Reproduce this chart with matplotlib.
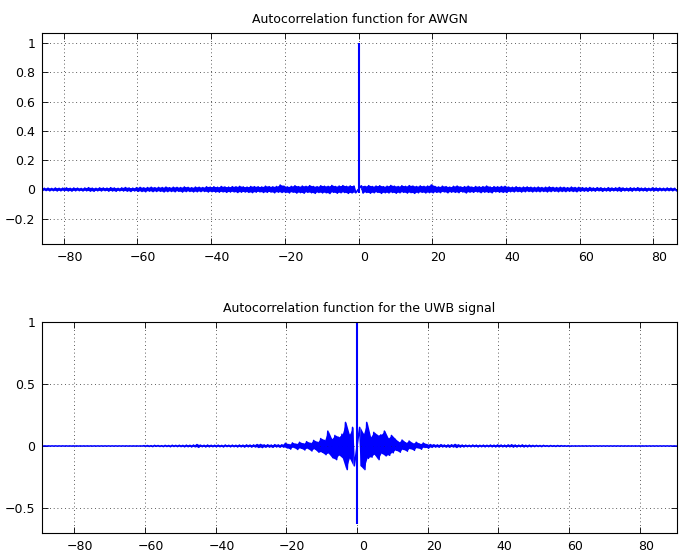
import numpy as np
import matplotlib
matplotlib.use("Agg")
import matplotlib.pyplot as plt
import matplotlib.transforms as mtransforms

plt.rcParams['font.family'] = ['DejaVu Sans']

# AWGN autocorrelation: upper / lower peaks per unit lag (thousandths), lags -86..86
awgn_lags = np.arange(-86, 87)
awgn_hi = [9,
           8, 9, 7, 10, 8, 9, 11, 8, 10, 9, 7, 10, 12, 9, 8, 11, 10, 9, 12, 10, 8, 11, 13, 10, 9,
           12, 14, 11, 13, 15, 12, 14, 13, 16, 12, 15, 14, 13, 17, 14, 12, 16, 15, 13, 18,
           16, 18, 15, 20, 17, 16, 19, 18, 21, 17, 16, 20, 19, 18, 17, 22, 19, 18, 20, 30,
           22, 17, 21, 25, 19, 23, 21, 26, 20, 19, 25, 22, 21, 27, 20, 23, 26, 21, 24, 23,
           1000,
           25, 21, 26, 20, 23, 25, 19, 22, 27, 22, 20, 25, 21, 26, 23, 20, 24, 21, 23, 31,
           20, 17, 22, 19, 16, 21, 23, 17, 19, 22, 16, 20, 18, 19, 23, 16, 19, 18, 20, 21,
           16, 15, 18, 14, 16, 17, 15, 14, 16, 13, 15, 17, 14, 13, 15, 14, 12, 16, 13, 14,
           12, 11, 13, 10, 12, 11, 9, 12, 10, 11, 13, 10, 9, 11, 10, 12, 9, 10, 8, 11, 10, 9, 8, 10, 9, 8]
awgn_lo = [-8,
           -7, -9, -8, -10, -9, -8, -10, -11, -9, -8, -10, -9, -11, -12, -9, -10, -8, -11, -10, -12, -9, -10, -11, -13, -10,
           -12, -13, -15, -11, -14, -13, -12, -16, -14, -13, -15, -12, -17, -14, -13, -16, -15, -14, -13, -17,
           -15, -17, -18, -16, -19, -17, -16, -20, -18, -17, -19, -21, -18, -16, -20, -19, -17, -22, -18, -20,
           -20, -23, -18, -24, -21, -25, -19, -22, -26, -20, -23, -22, -27, -19, -25, -22, -20, -26, -23, -22,
           -22,
           -24, -20, -25, -22, -19, -26, -22, -23, -20, -25, -22, -19, -24, -21, -26, -22, -19, -23, -21, -22,
           -19, -21, -16, -22, -18, -19, -21, -16, -23, -18, -19, -16, -21, -18, -19, -22, -16, -18, -19, -20,
           -15, -16, -14, -17, -15, -13, -16, -14, -15, -13, -16, -14, -12, -15, -13, -14, -12, -13, -15, -12,
           -11, -12, -10, -11, -9, -12, -10, -11, -9, -10, -12, -9, -10, -11, -8, -10, -9, -11, -8, -9, -10, -8, -9, -8, -9, -8]

# UWB signal autocorrelation (thousandths), lags -89..91
uwb_lags = np.arange(-89, 92)
uwb_hi = [1, 1, 1, 1, 1, 1, 1, 1, 1, 1, 1, 1, 1, 1, 1, 1, 1, 1, 1, 1, 1, 1, 1, 1, 1, 1, 1, 1, 1,
          3, 4, 3, 5, 4, 3, 5, 4, 6, 5,
          6, 5, 7, 6, 8, 12, 7, 6, 8, 6,
          6, 7, 5, 8, 6, 7, 6, 8, 7, 9,
          8, 9, 12, 13, 9, 10, 8, 11, 9, 10,
          22, 12, 25, 15, 30, 18, 35, 22, 45, 30,
          60, 45, 120, 55, 85, 70, 95, 190, 90, 150,
          1000,
          150, 95, 190, 70, 110, 85, 90, 120, 60, 85,
          55, 30, 48, 25, 40, 20, 30, 15, 24, 12,
          12, 10, 9, 11, 8, 9, 10, 13, 9, 8,
          7, 6, 8, 7, 6, 7, 6, 8, 7, 9,
          8, 7, 9, 10, 8, 7, 9, 6, 7, 5,
          5, 4, 5, 3, 4, 3, 4, 3, 2, 2,
          1, 1, 1, 1, 1, 1, 1, 1, 1, 1, 1, 1, 1, 1, 1, 1, 1, 1, 1, 1, 1, 1, 1, 1, 1, 1, 1, 1, 1, 1, 1]
uwb_lo = [-1, -1, -1, -1, -1, -1, -1, -1, -1, -1, -1, -1, -1, -1, -1, -1, -1, -1, -1, -1, -1, -1, -1, -1, -1, -1, -1, -1, -1,
          -3, -4, -5, -3, -4, -5, -4, -6, -4, -5,
          -5, -7, -6, -8, -7, -11, -6, -8, -7, -6,
          -7, -6, -8, -5, -7, -6, -8, -7, -9, -7,
          -9, -8, -12, -13, -10, -9, -11, -8, -10, -9,
          -15, -25, -12, -28, -18, -32, -20, -40, -25, -50,
          -50, -70, -60, -95, -110, -75, -100, -190, -100, -160,
          -630,
          -160, -190, -100, -90, -70, -110, -60, -80, -75, -55,
          -35, -50, -28, -42, -22, -35, -15, -26, -12, -18,
          -11, -9, -10, -8, -9, -10, -8, -12, -9, -8,
          -6, -7, -6, -8, -6, -7, -6, -7, -8, -7,
          -7, -8, -7, -9, -8, -6, -8, -7, -6, -5,
          -4, -5, -3, -4, -3, -4, -3, -2, -2, -2,
          -1, -1, -1, -1, -1, -1, -1, -1, -1, -1, -1, -1, -1, -1, -1, -1, -1, -1, -1, -1, -1, -1, -1, -1, -1, -1, -1, -1, -1, -1, -1]

x_ticks = [-80, -60, -40, -20, 0, 20, 40, 60, 80]
awgn_yticks = [-0.2, 0, 0.2, 0.4, 0.6, 0.8, 1]
awgn_ylabels = ["\u22120.2", "0", "0.2", "0.4", "0.6", "0.8", "1"]
uwb_yticks = [-0.5, 0, 0.5, 1]
uwb_ylabels = ["\u22120.5", "0", "0.5", "1"]


def draw_trace(ax, lags, hi, lo, lw):
    hi = np.array(hi) / 1000.0
    lo = np.array(lo) / 1000.0
    side = lags != 0
    # dense core of the trace
    ax.fill_between(lags, lo, hi, where=side, color="blue", linewidth=0)
    # interleave the upper and lower peaks to draw the trace itself
    ls, hs, los = lags[side], hi[side], lo[side]
    x = np.empty(2 * len(ls))
    y = np.empty(2 * len(ls))
    x[0::2] = ls - 0.25
    x[1::2] = ls + 0.25
    y[0::2] = hs
    y[1::2] = los
    ax.plot(x, y, color="blue", linewidth=lw)
    # zero-lag peak
    ax.vlines(lags[~side], lo[~side], hi[~side], color="blue", linewidth=1.5)


def style(ax, fig):
    ax.grid(True, color="0.15", linestyle=(0, (1, 3.5)), linewidth=0.6)
    ax.tick_params(direction="in", length=4.5, width=0.6, top=True, right=True,
                   labelsize=9, pad=5)
    for s in ax.spines.values():
        s.set_linewidth(0.8)
    ax.set_xticks(x_ticks)
    ax.set_xticklabels([str(t).replace("-", "\u2212") for t in x_ticks])
    shift = mtransforms.ScaledTranslation(6 / 100, 0, fig.dpi_scale_trans)
    for lab in ax.get_xticklabels():
        lab.set_transform(lab.get_transform() + shift)


fig = plt.figure(figsize=(6.91, 5.52), dpi=100)

ax1 = fig.add_axes([0.0612, 0.5585, 0.918, 0.3822])
draw_trace(ax1, awgn_lags, awgn_hi, awgn_lo, 1.2)
ax1.set_xlim(-85.8, 86.3)
ax1.set_ylim(-0.37, 1.07)
ax1.set_yticks(awgn_yticks)
ax1.set_yticklabels(awgn_ylabels)
ax1.set_title("Autocorrelation function for AWGN", fontsize=9, pad=7)
style(ax1, fig)

ax2 = fig.add_axes([0.0612, 0.0344, 0.918, 0.3828])
draw_trace(ax2, uwb_lags, uwb_hi, uwb_lo, 1.1)
ax2.set_xlim(-89.0, 90.4)
ax2.set_ylim(-0.70, 1.0)
ax2.set_yticks(uwb_yticks)
ax2.set_yticklabels(uwb_ylabels)
ax2.set_title("Autocorrelation function for the UWB signal", fontsize=9, pad=7)
style(ax2, fig)

fig.savefig("out.png", dpi=100)
